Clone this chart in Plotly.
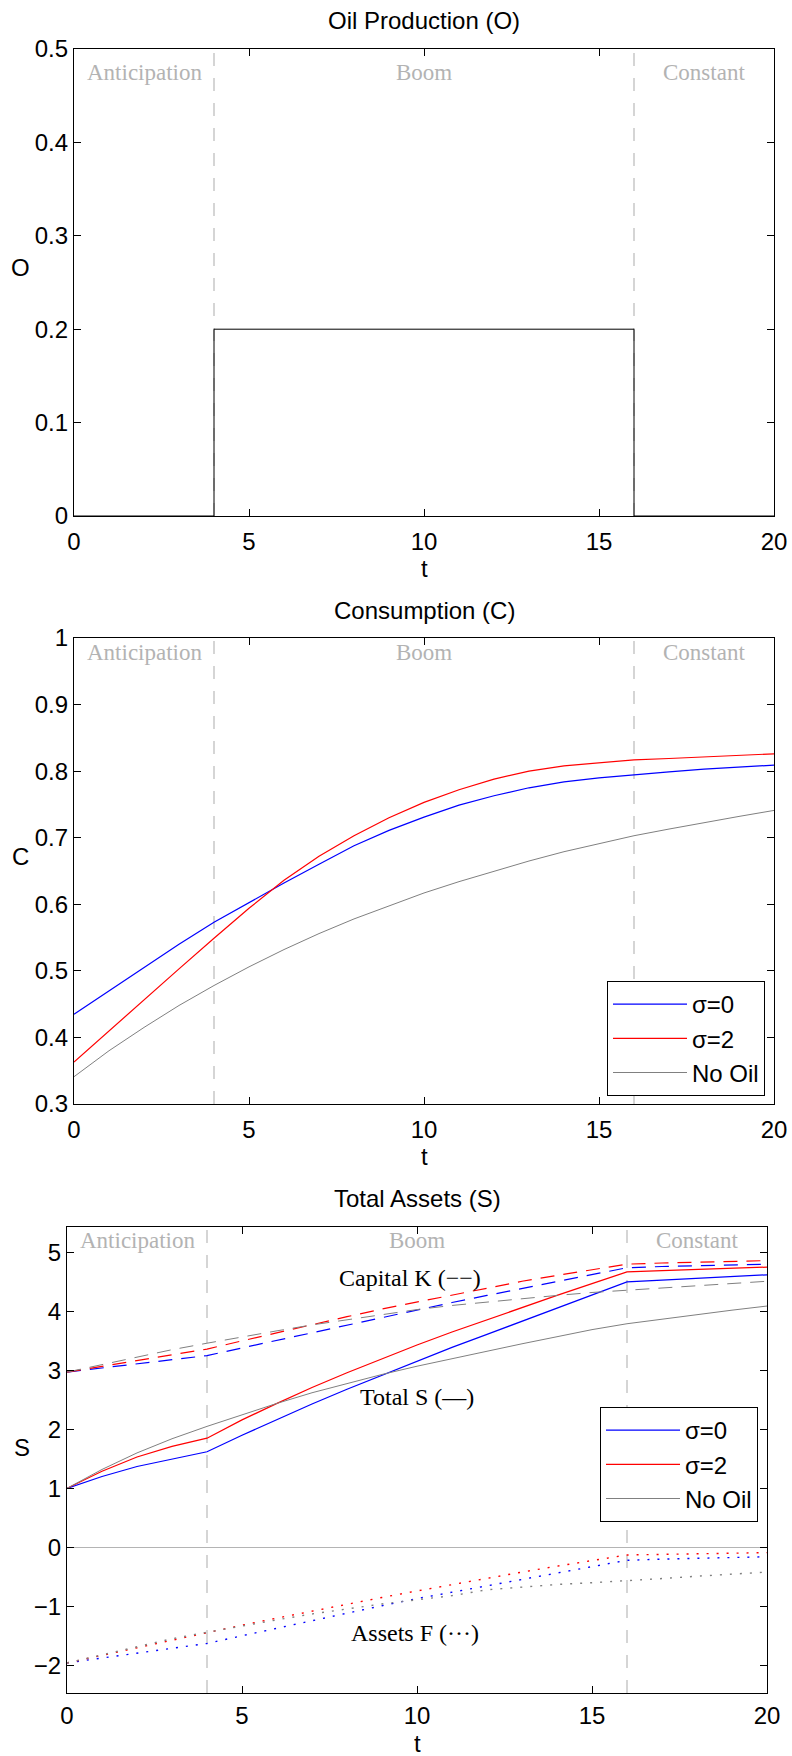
import plotly.graph_objects as go

# ---------------- data ----------------
t = list(range(21))
phase_bounds = [4, 16]
phase_names = ["Anticipation", "Boom", "Constant"]
phase_centers = [2, 10, 18]

oil_t = [0, 4, 4, 16, 16, 20]
oil_O = [0, 0, 0.2, 0.2, 0, 0]

C_s0 = [0.435, 0.470, 0.505, 0.540, 0.573, 0.603, 0.632, 0.660, 0.688, 0.711, 0.731,
        0.749, 0.763, 0.775, 0.784, 0.790, 0.795, 0.799, 0.803, 0.806, 0.809]
C_s2 = [0.363, 0.410, 0.457, 0.503, 0.549, 0.594, 0.636, 0.672, 0.703, 0.730, 0.753,
        0.772, 0.788, 0.800, 0.808, 0.813, 0.817, 0.819, 0.821, 0.823, 0.826]
C_no = [0.341, 0.380, 0.415, 0.448, 0.478, 0.506, 0.532, 0.556, 0.578, 0.598, 0.617,
        0.634, 0.650, 0.665, 0.679, 0.691, 0.703, 0.713, 0.723, 0.732, 0.741]

S_s0 = [1.00, 1.20, 1.37, 1.50, 1.62, 1.90, 2.17, 2.43, 2.68, 2.92, 3.16,
        3.39, 3.61, 3.83, 4.06, 4.28, 4.50, 4.53, 4.56, 4.59, 4.62]
S_s2 = [1.00, 1.29, 1.53, 1.71, 1.85, 2.16, 2.44, 2.71, 2.96, 3.20, 3.43,
        3.65, 3.86, 4.07, 4.27, 4.47, 4.67, 4.69, 4.71, 4.73, 4.75]
S_no = [1.00, 1.32, 1.60, 1.84, 2.05, 2.25, 2.44, 2.62, 2.78, 2.93, 3.07,
        3.20, 3.33, 3.45, 3.57, 3.69, 3.79, 3.87, 3.95, 4.02, 4.09]

K_s0 = [2.97, 3.04, 3.11, 3.18, 3.25, 3.38, 3.51, 3.64, 3.77, 3.90, 4.03,
        4.15, 4.27, 4.39, 4.51, 4.63, 4.74, 4.76, 4.77, 4.79, 4.80]
K_s2 = [2.97, 3.07, 3.17, 3.26, 3.36, 3.50, 3.64, 3.78, 3.91, 4.04, 4.16,
        4.28, 4.40, 4.51, 4.61, 4.71, 4.80, 4.82, 4.83, 4.85, 4.86]
K_no = [2.97, 3.10, 3.23, 3.35, 3.46, 3.57, 3.67, 3.77, 3.86, 3.95, 4.03,
        4.10, 4.16, 4.22, 4.27, 4.32, 4.36, 4.40, 4.44, 4.48, 4.51]

F_s0 = [-1.96, -1.88, -1.80, -1.71, -1.63, -1.50, -1.37, -1.24, -1.11, -0.99, -0.87,
        -0.76, -0.65, -0.54, -0.43, -0.32, -0.22, -0.20, -0.19, -0.17, -0.16]
F_s2 = [-1.96, -1.83, -1.70, -1.57, -1.44, -1.32, -1.20, -1.08, -0.96, -0.85, -0.74,
        -0.63, -0.52, -0.42, -0.32, -0.22, -0.13, -0.12, -0.11, -0.10, -0.09]
F_no = [-1.96, -1.82, -1.68, -1.55, -1.44, -1.33, -1.23, -1.13, -1.04, -0.96, -0.89,
        -0.82, -0.72, -0.67, -0.63, -0.60, -0.57, -0.53, -0.49, -0.45, -0.42]

series_names = ["σ=0", "σ=2", "No Oil"]
series_colors = ["#0000ff", "#ff0000", "#808080"]

# ---------------- figure ----------------
W, H = 792, 1756
SANS = "Liberation Sans, Arial, Helvetica, sans-serif"
SERIF = "Liberation Serif, Times New Roman, serif"

fig = go.Figure()

# Panel 1
fig.add_trace(go.Scatter(x=oil_t, y=oil_O, mode="lines", line=dict(color="black", width=1),
                         showlegend=False, xaxis="x", yaxis="y"))

# Panel 2
for name, col, ys in zip(series_names, series_colors, [C_s0, C_s2, C_no]):
    fig.add_trace(go.Scatter(x=t, y=ys, mode="lines", name=name,
                             line=dict(color=col, width=1.2 if col != "#808080" else 1),
                             xaxis="x2", yaxis="y2", legend="legend"))

# Panel 3
for name, col, ks, ss, fs in zip(series_names, series_colors,
                                 [K_s0, K_s2, K_no], [S_s0, S_s2, S_no], [F_s0, F_s2, F_no]):
    w = 1.2 if col != "#808080" else 1
    fig.add_trace(go.Scatter(x=t, y=ks, mode="lines", showlegend=False,
                             line=dict(color=col, width=w, dash="14px,9px"),
                             xaxis="x3", yaxis="y3"))
    fig.add_trace(go.Scatter(x=t, y=fs, mode="lines", showlegend=False,
                             line=dict(color=col, width=1.4, dash="2px,8px"),
                             xaxis="x3", yaxis="y3"))
    fig.add_trace(go.Scatter(x=t, y=ss, mode="lines", name=name,
                             line=dict(color=col, width=w),
                             xaxis="x3", yaxis="y3", legend="legend2"))

def ax(domain, **kw):
    d = dict(domain=domain, showline=True, linecolor="black", linewidth=1.2, mirror="ticks",
             ticks="inside", ticklen=7, tickcolor="black", tickwidth=1, showgrid=False,
             zeroline=False, automargin=False,
             tickfont=dict(family=SANS, size=24, color="black"))
    d.update(kw)
    return d

xd12 = [74 / W, 774 / W]
xd3 = [67 / W, 767 / W]
yd1 = [1 - 516 / H, 1 - 49 / H]
yd2 = [1 - 1104 / H, 1 - 638 / H]
yd3 = [1 - 1693 / H, 1 - 1227 / H]

xt = [0, 5, 10, 15, 20]
leg_common = dict(bordercolor="black", borderwidth=1, bgcolor="white",
                  font=dict(family=SANS, size=24, color="black"), itemwidth=74)
fig.update_layout(
    width=W, height=H, margin=dict(l=0, r=0, t=0, b=0, pad=0, autoexpand=False),
    paper_bgcolor="white", plot_bgcolor="white",
    xaxis=ax(xd12, anchor="y", range=[0, 20], tickvals=xt, ticklabelstandoff=4),
    yaxis=ax(yd1, anchor="x", range=[0, 0.5], tickvals=[0, 0.1, 0.2, 0.3, 0.4, 0.5]),
    xaxis2=ax(xd12, anchor="y2", range=[0, 20], tickvals=xt, ticklabelstandoff=4),
    yaxis2=ax(yd2, anchor="x2", range=[0.3, 1.0],
              tickvals=[0.3, 0.4, 0.5, 0.6, 0.7, 0.8, 0.9, 1.0],
              ticktext=["0.3", "0.4", "0.5", "0.6", "0.7", "0.8", "0.9", "1"]),
    xaxis3=ax(xd3, anchor="y3", range=[0, 20], tickvals=xt, ticklabelstandoff=1),
    yaxis3=ax(yd3, anchor="x3", range=[-2.47, 5.43], tickvals=[-2, -1, 0, 1, 2, 3, 4, 5],
              zeroline=True, zerolinecolor="#b4b4b4", zerolinewidth=1),
    legend=dict(x=765 / W, y=1 - 1096 / H, xanchor="right", yanchor="bottom", **leg_common),
    legend2=dict(x=758 / W, y=1 - 1407 / H, xanchor="right", yanchor="top", **leg_common),
)

# phase boundaries and labels
label_y = {"y": 0.475, "y2": 0.9775, "y3": 5.2}
for xr, yr in [("x", "y"), ("x2", "y2"), ("x3", "y3")]:
    for b in phase_bounds:
        fig.add_shape(type="line", x0=b, x1=b, y0=0, y1=1, xref=xr, yref=yr + " domain",
                      line=dict(color="#c8c8c8", width=1.5, dash="13px,12px"), layer="below")
    for name, c in zip(phase_names, phase_centers):
        fig.add_annotation(x=c, y=label_y[yr], xref=xr, yref=yr, text=name, showarrow=False,
                           font=dict(family=SERIF, size=23, color="#b3b3b3"))

# panel 3 text labels
for txt, xx, yy in [("Capital K (−−)", 9.8, 4.56), ("Total S (—)", 10, 2.55),
                    ("Assets F (···)", 9.93, -1.46)]:
    fig.add_annotation(x=xx, y=yy, xref="x3", yref="y3", text=txt, showarrow=False,
                       font=dict(family=SERIF, size=24, color="black"))

# titles & axis labels
def pa(txt, xpx, ypx, size=24, height=None):
    kw = dict(x=xpx / W, y=1 - ypx / H, xref="paper", yref="paper", text=txt,
              showarrow=False, xanchor="center", yanchor="middle",
              font=dict(family=SANS, size=size, color="black"))
    if height:
        kw["height"] = height
    fig.add_annotation(**kw)

pa("Oil Production (O)", 424, 21)
pa("Consumption (C)", 424, 610)
pa("Total Assets (S)", 417, 1198)
pa("t", 424, 568, height=24)
pa("t", 424, 1156, height=24)
pa("t", 417, 1743, height=22)
pa("O", 20, 267)
pa("C", 20, 857)
pa("S", 22, 1447)

fig.write_html("out.html")
